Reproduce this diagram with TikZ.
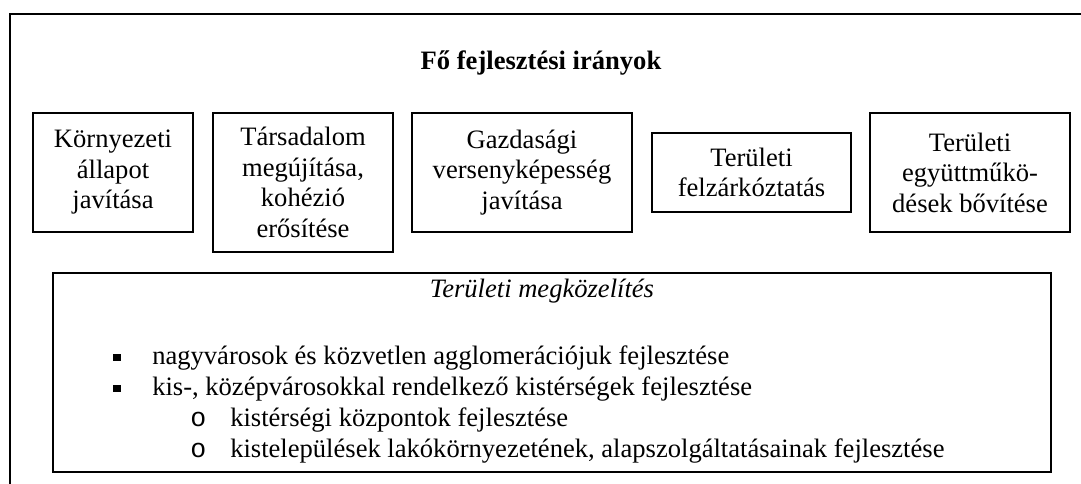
\documentclass[tikz,border=0pt]{standalone}
\usepackage{fontspec}
\setmainfont{Liberation Serif}
\newfontfamily\jelfont{Liberation Mono}

\begin{document}
\begin{tikzpicture}[font=\fontsize{18.9}{21.7}\selectfont,
        irany/.style={draw, line width=0.9pt, align=center, inner sep=0pt},
        pont/.style={fill, minimum size=0.19cm, inner sep=0pt},
        sor/.style={anchor=base west, inner sep=0pt}]
    \useasboundingbox (0,0) rectangle (27.025,12.1);
    % outer frame
    \draw[line width=1.6pt] (0.25,-0.5) -- (0.25,11.75) -- (27.5,11.75);

    \node[anchor=base, font=\fontsize{18.9}{21.7}\selectfont\bfseries] (cim) at (13.525,10.35) {Fő fejlesztési irányok};

    \node[irany, minimum width=4cm, minimum height=2.975cm] (korny) at (2.825,7.7875) {Környezeti\\állapot\\javítása};
    \node[irany, minimum width=4.5cm, minimum height=3.475cm] (tars) at (7.575,7.5375) {Társadalom\\megújítása,\\kohézió\\erősítése};
    \node[irany, minimum width=5.5cm, minimum height=2.975cm] (gazd) at (13.05,7.7875) {Gazdasági\\versenyképesség\\javítása};
    \node[irany, minimum width=4.975cm, minimum height=1.975cm] (felz) at (18.7875,7.7875) {Területi\\felzárkóztatás};
    \node[irany, minimum width=5cm, minimum height=2.975cm] (egyutt) at (24.25,7.7875) {Területi\\együttműkö-\\dések bővítése};

    \node[irany, minimum width=24.95cm, minimum height=4.975cm] (terulet) at (13.8,2.7875) {};
    \node[anchor=base, inner sep=0pt, font=\fontsize{18.9}{21.7}\selectfont\itshape] (megk) at (13.55,4.66) {Területi megközelítés};

    \node[pont] (p1) at (2.925,3.16) {};
    \node[pont] (p2) at (2.925,2.385) {};
    \node[sor] (s1) at (3.8,2.975) {nagyvárosok és közvetlen agglomerációjuk fejlesztése};
    \node[sor] (s2) at (3.8,2.2) {kis-, középvárosokkal rendelkező kistérségek fejlesztése};
    \node[sor, font=\fontsize{18.9}{21.7}\jelfont] (o1) at (4.75,1.425) {o};
    \node[sor, font=\fontsize{18.9}{21.7}\jelfont] (o2) at (4.75,0.65) {o};
    \node[sor] (s3) at (5.75,1.425) {kistérségi központok fejlesztése};
    \node[sor] (s4) at (5.75,0.65) {kistelepülések lakókörnyezetének, alapszolgáltatásainak fejlesztése};
\end{tikzpicture}
\end{document}
